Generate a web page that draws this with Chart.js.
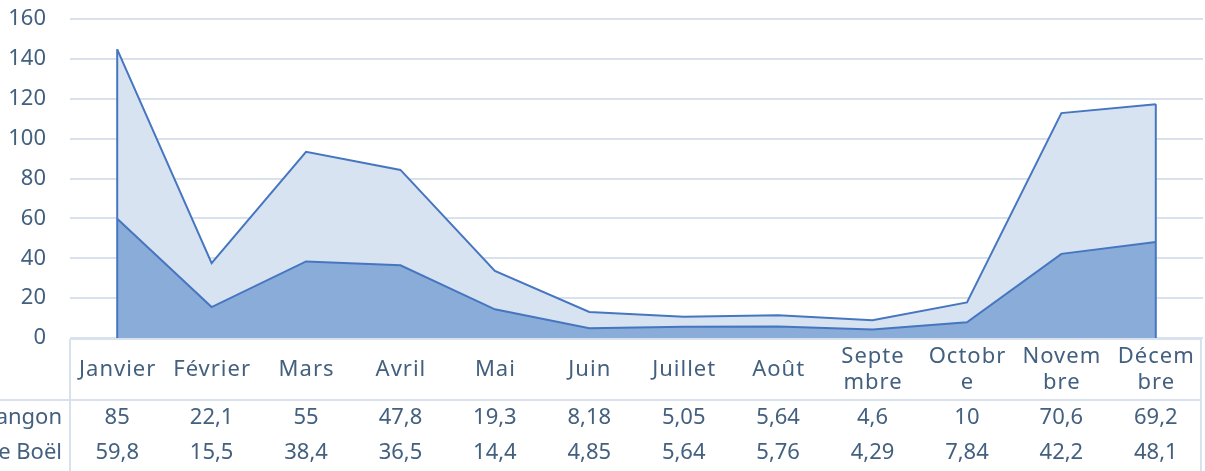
<!DOCTYPE html>
<html><head><meta charset="utf-8">
<script src="https://cdn.jsdelivr.net/npm/chart.js@4/dist/chart.umd.min.js"></script>
<style>html,body{margin:0;padding:0;background:#fff;}#wrap{width:1205px;height:471px;}</style>
</head><body><div id="wrap"><canvas id="c" width="1205" height="471"></canvas></div>
<script>
const months = ['Janvier','Février','Mars','Avril','Mai','Juin','Juillet','Août',['Septe','mbre'],['Octobr','e'],['Novem','bre'],['Décem','bre']];
const seriesNames = ['Langon','Le Boël'];
const langon = [85,22.1,55,47.8,19.3,8.18,5.05,5.64,4.6,10,70.6,69.2];
const boel = [59.8,15.5,38.4,36.5,14.4,4.85,5.64,5.76,4.29,7.84,42.2,48.1];
const yTicks = [0,20,40,60,80,100,120,140,160];

const FONT = '"Noto Sans", sans-serif';
const TXT = '#43607f';
const GRID = '#d9e1ec';
const LINE = '#4676c0';

const tablePlugin = {
  id:'table',
  afterDatasetsDraw(chart){
    const ctx = chart.ctx, x = chart.scales.x, y = chart.scales.y;
    ctx.save();
    ctx.strokeStyle = LINE; ctx.lineWidth = 2;
    [0, months.length-1].forEach(i=>{
      const px = x.getPixelForValue(i);
      ctx.beginPath();
      ctx.moveTo(px, y.getPixelForValue(langon[i]+boel[i]));
      ctx.lineTo(px, y.getPixelForValue(0));
      ctx.stroke();
    });
    ctx.restore();
  },
  afterDraw(chart){
    const ctx = chart.ctx, x = chart.scales.x, y = chart.scales.y;
    const ca = chart.chartArea;
    const top = y.getPixelForValue(0)+1, left = ca.left, right = ca.right-2;
    const sep = top+61, bottom = chart.height;
    ctx.save();
    ctx.strokeStyle = GRID; ctx.lineWidth = 2;
    ctx.beginPath();
    ctx.moveTo(left, top); ctx.lineTo(right, top);
    ctx.moveTo(0, sep); ctx.lineTo(right, sep);
    ctx.moveTo(left, top); ctx.lineTo(left, bottom);
    ctx.moveTo(right, top); ctx.lineTo(right, bottom);
    ctx.stroke();
    ctx.fillStyle = TXT; ctx.font = '22px '+FONT;
    ctx.textBaseline = 'middle';
    const midH = (top+sep)/2;
    ctx.letterSpacing = '1px';
    ctx.textAlign = 'center';
    months.forEach((m,i)=>{
      const px = x.getPixelForValue(i) + 0.5;
      if (Array.isArray(m)) {
        ctx.fillText(m[0], px, midH-13);
        ctx.fillText(m[1], px, midH+13);
      } else ctx.fillText(m, px, midH);
    });
    ctx.letterSpacing = '0px';
    const rows = [langon, boel];
    const rowY = [sep+18, sep+53];
    rows.forEach((r,ri)=>{
      ctx.textAlign = 'right';
      ctx.fillText(seriesNames[ri], left-8, rowY[ri]);
      ctx.textAlign = 'center';
      r.forEach((v,i)=>ctx.fillText(String(v).replace('.',','), x.getPixelForValue(i), rowY[ri]));
    });
    ctx.restore();
  }
};

new Chart(document.getElementById('c'), {
  type:'line',
  data:{
    labels: months,
    datasets:[
      {label:seriesNames[1], data:boel, fill:'origin', backgroundColor:'#89acd9', borderColor:LINE, borderWidth:2, pointRadius:0, tension:0},
      {label:seriesNames[0], data:langon, fill:'-1', backgroundColor:'#d7e3f1', borderColor:LINE, borderWidth:2, pointRadius:0, tension:0}
    ]
  },
  options:{
    responsive:false, animation:false, devicePixelRatio:1,
    layout:{autoPadding:false, padding:{top:19,right:2,bottom:133,left:0}},
    plugins:{legend:{display:false}, tooltip:{enabled:false}},
    scales:{
      x:{display:false, offset:true},
      y:{stacked:true, min:0, max:160,
         afterBuildTicks(s){ s.ticks = yTicks.map(v=>({value:v})); },
         afterFit(s){ s.width = 70; s.paddingTop = 0; s.paddingBottom = 0; },
         border:{display:false},
         grid:{color:GRID, lineWidth:2, drawTicks:false},
         ticks:{padding:24, color:TXT, font:{family:FONT, size:22}}
      }
    }
  },
  plugins:[tablePlugin]
});
</script></body></html>
